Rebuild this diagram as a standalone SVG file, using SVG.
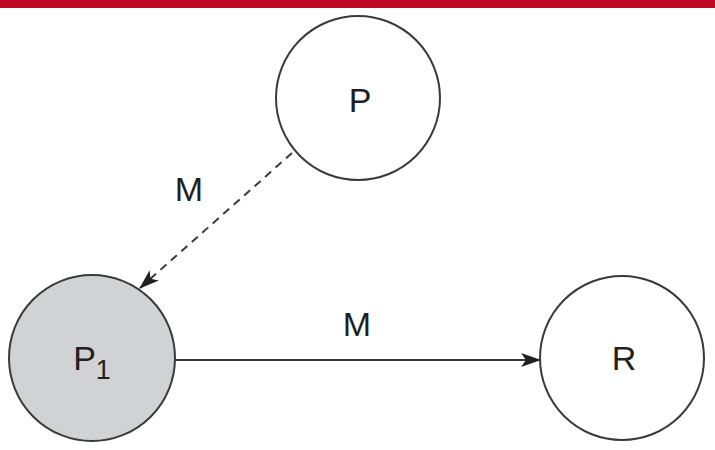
<svg xmlns="http://www.w3.org/2000/svg" width="715" height="450" viewBox="0 0 715 450">
<defs>
<style>
.node{fill:#fff;stroke:#3a3a3a;stroke-width:2}
.shaded{fill:#d1d2d4}
.lbl{font-family:"Liberation Sans",Arial,sans-serif;font-size:34px;fill:#231f20;text-anchor:middle}
.sub{font-size:27px}
.edge{stroke:#3a3a3a;stroke-width:2;fill:none}
</style>
<marker id="arr" viewBox="0 0 20 14" refX="19" refY="7" markerWidth="20" markerHeight="14" markerUnits="userSpaceOnUse" orient="auto">
<path d="M0,0 L20,7 L0,14 L5,7 Z" fill="#231f20"/>
</marker>
</defs>
<rect x="0" y="0" width="715" height="8" fill="#be0a26"/>
<g id="edges">
<line class="edge" x1="292" y1="153" x2="140" y2="288" stroke-dasharray="8,6" marker-end="url(#arr)"/>
<line class="edge" x1="175" y1="360" x2="540" y2="360" marker-end="url(#arr)"/>
<text class="lbl" x="189" y="201">M</text>
<text class="lbl" x="357" y="336">M</text>
</g>
<g id="P">
<circle class="node" cx="358" cy="98" r="82"/>
<text class="lbl" x="360" y="112">P</text>
</g>
<g id="P1">
<circle class="node shaded" cx="92" cy="358" r="83"/>
<text class="lbl" x="92" y="370">P<tspan class="sub" dy="9">1</tspan></text>
</g>
<g id="R">
<circle class="node" cx="622" cy="358" r="82"/>
<text class="lbl" x="624" y="370">R</text>
</g>
</svg>
